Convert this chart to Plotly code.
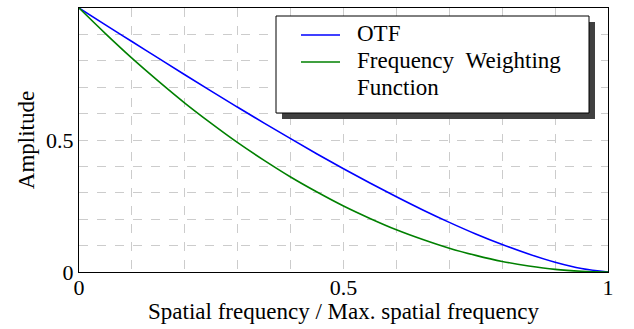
import plotly.graph_objects as go

# Spatial frequency (normalised)
freq = [0.0, 0.05, 0.1, 0.15, 0.2, 0.25, 0.3, 0.35, 0.4, 0.45, 0.5,
        0.55, 0.6, 0.65, 0.7, 0.75, 0.8, 0.85, 0.9, 0.95, 1.0]
# OTF values
otf = [1.0, 0.936, 0.873, 0.810, 0.747, 0.685, 0.624, 0.564, 0.505, 0.447, 0.391,
       0.337, 0.285, 0.235, 0.188, 0.144, 0.104, 0.068, 0.037, 0.013, 0.0]
# Frequency weighting function values
fwf = [1.0, 0.903, 0.81, 0.723, 0.64, 0.563, 0.49, 0.423, 0.36, 0.303, 0.25,
       0.203, 0.16, 0.123, 0.09, 0.063, 0.04, 0.023, 0.01, 0.003, 0.0]

series_names = ["OTF", "Frequency Weighting Function"]
legend_lines = [["OTF"], ["Frequency\u00a0\u00a0Weighting", "Function"]]
series_colors = ["#0000ff", "#008000"]

tick_vals = [0, 0.5, 1]
tick_text = ["0", "0.5", "1"]

FONT = "Liberation Serif"
FS = 23
W, H = 634, 329
ml, mr, mt, mb = 79, 26, 8, 57
pw, ph = W - ml - mr, H - mt - mb

def px2paper_x(px):
    return (px - ml) / pw

def px2paper_y(py):
    return (H - mb - py) / ph

fig = go.Figure()
for ys, name, col in zip([otf, fwf], series_names, series_colors):
    fig.add_trace(go.Scatter(x=freq, y=ys, mode="lines", name=name, showlegend=False,
                             line=dict(color=col, width=1.6, shape="spline")))

axis_common = dict(
    range=[0, 1], tickvals=tick_vals, ticktext=tick_text,
    showgrid=True, gridcolor="#cccccc", griddash="dash", gridwidth=1,
    minor=dict(dtick=0.1, showgrid=True, gridcolor="#cccccc", griddash="dash", gridwidth=1),
    showline=True, linecolor="black", linewidth=1.2, mirror=True,
    ticks="", zeroline=False,
    tickfont=dict(family=FONT, size=22, color="black"),
)

# Manual legend (box with drop shadow)
box_l, box_r, box_t, box_b = 276, 589, 16, 113
shadow_off = 6
shapes = [
    dict(type="rect", xref="paper", yref="paper",
         x0=px2paper_x(box_l + shadow_off), x1=px2paper_x(box_r + shadow_off),
         y0=px2paper_y(box_b + shadow_off), y1=px2paper_y(box_t + shadow_off),
         fillcolor="#404040", line=dict(width=0), layer="above"),
    dict(type="rect", xref="paper", yref="paper",
         x0=px2paper_x(box_l), x1=px2paper_x(box_r),
         y0=px2paper_y(box_b), y1=px2paper_y(box_t),
         fillcolor="white", line=dict(color="black", width=1), layer="above"),
]
annotations = []
row_y = [35, 62]
row_h = 28
for ry, lines, col in zip(row_y, legend_lines, series_colors):
    shapes.append(dict(type="line", xref="paper", yref="paper",
                       x0=px2paper_x(301), x1=px2paper_x(340),
                       y0=px2paper_y(ry), y1=px2paper_y(ry),
                       line=dict(color=col, width=1.6), layer="above"))
    for i, txt in enumerate(lines):
        annotations.append(dict(xref="paper", yref="paper",
                                x=px2paper_x(355), y=px2paper_y(ry - 2 + i * row_h),
                                xanchor="left", yanchor="middle", align="left",
                                text=txt, showarrow=False,
                                font=dict(family=FONT, size=FS, color="black")))

fig.update_layout(
    width=W, height=H,
    margin=dict(l=ml, r=mr, t=mt, b=mb),
    paper_bgcolor="white", plot_bgcolor="white",
    font=dict(family=FONT, size=FS, color="black"),
    xaxis=dict(axis_common, ticklabelstandoff=-5,
               title=dict(text="Spatial frequency / Max. spatial frequency",
                          font=dict(family=FONT, size=FS), standoff=0)),
    yaxis=dict(axis_common, title=dict(text="Amplitude", font=dict(family=FONT, size=FS),
                                        standoff=4)),
    shapes=shapes,
    annotations=annotations,
    showlegend=False,
)

fig.write_html("out.html")
